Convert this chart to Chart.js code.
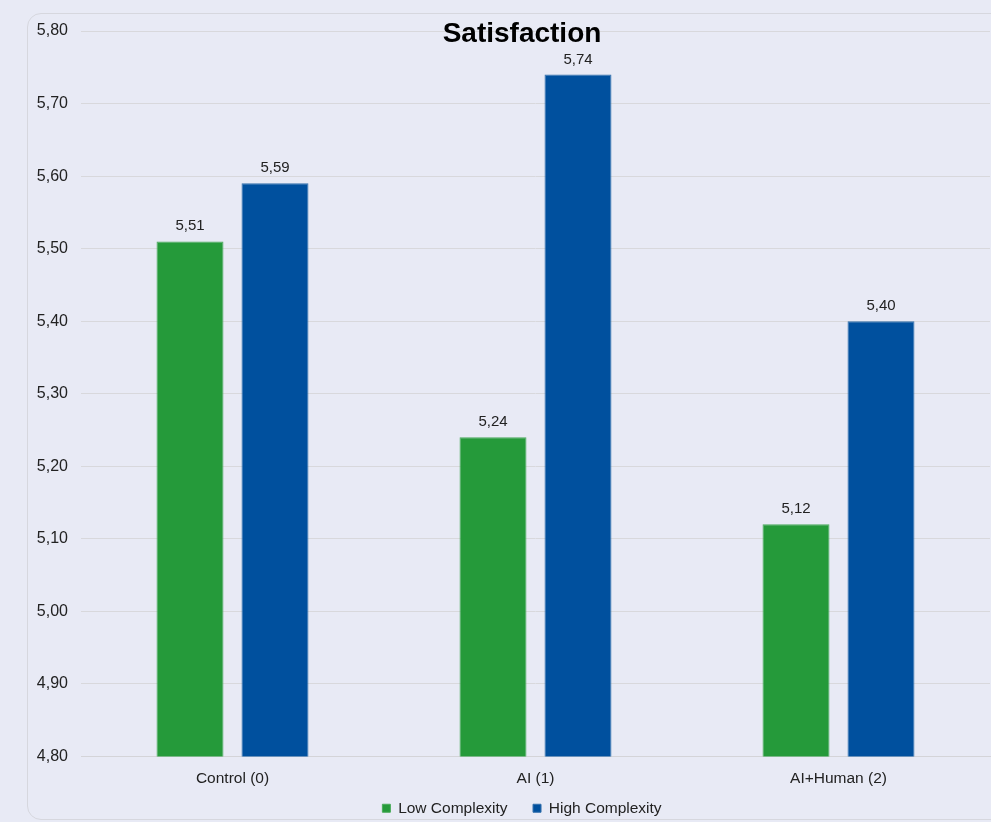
<!DOCTYPE html>
<html>
<head>
<meta charset="utf-8">
<script src="https://cdn.jsdelivr.net/npm/chart.js@4/dist/chart.umd.min.js"></script>
<style>
  html, body { margin: 0; padding: 0; background: #e8eaf5; overflow: hidden; width: 991px; height: 822px; }
  #frame { position: absolute; left: 27px; top: 13px; width: 990px; height: 807px; border: 1px solid #d6d7de; border-radius: 14px; box-sizing: border-box; }
  #wrap { position: absolute; left: 0; top: 0; width: 1044px; height: 822px; }
</style>
</head>
<body>
<div id="frame"></div>
<div id="wrap"><canvas id="c" width="1044" height="822"></canvas></div>
<script>
const chartTitle = "Satisfaction";
const categories = ["Control (0)", "AI (1)", "AI+Human (2)"];
const seriesNames = ["Low Complexity", "High Complexity"];
const lowComplexity = [5.51, 5.24, 5.12];
const highComplexity = [5.59, 5.74, 5.40];
const yMin = 4.80, yMax = 5.80, yStep = 0.10;

const FONT = "'Liberation Sans', Arial, sans-serif";
const fmt = v => v.toFixed(2).replace('.', ',');

const labelsPlugin = {
  id: 'barLabels',
  afterDatasetsDraw(chart) {
    const ctx = chart.ctx;
    ctx.save();
    ctx.font = "15px " + FONT;
    ctx.fillStyle = "#222";
    ctx.textAlign = "center";
    ctx.textBaseline = "alphabetic";
    chart.data.datasets.forEach((ds, i) => {
      chart.getDatasetMeta(i).data.forEach((bar, j) => {
        ctx.fillText(fmt(ds.data[j]), bar.x, bar.y - 11);
      });
    });
    ctx.restore();
  }
};
const titlePlugin = {
  id: 'overTitle',
  afterDraw(chart) {
    const ctx = chart.ctx;
    ctx.save();
    ctx.font = "bold 28px " + FONT;
    ctx.fillStyle = "#000";
    ctx.textAlign = "center";
    ctx.textBaseline = "middle";
    ctx.fillText(chartTitle, chart.width / 2, 34);
    ctx.restore();
  }
};

new Chart(document.getElementById('c'), {
  type: 'bar',
  data: {
    labels: categories,
    datasets: [
      { label: seriesNames[0], data: lowComplexity, backgroundColor: '#259a3a', borderColor: '#4aab5b', borderWidth: 1 },
      { label: seriesNames[1], data: highComplexity, backgroundColor: '#00509e', borderColor: '#3370ad', borderWidth: 1 }
    ]
  },
  options: {
    responsive: false,
    animation: false,
    devicePixelRatio: 1,
    categoryPercentage: 0.561,
    barPercentage: 0.788,
    layout: { padding: { left: 0, right: 0, top: 31, bottom: -4 } },
    plugins: {
      legend: {
        position: 'bottom',
        labels: {
          font: { family: FONT, size: 15.5 }, color: '#222', boxWidth: 8, boxHeight: 8, padding: 10,
          generateLabels(chart) {
            const items = Chart.defaults.plugins.legend.labels.generateLabels(chart);
            items.forEach((it, i) => { if (i < items.length - 1) it.text = it.text + '\u2002\u2002'; });
            return items;
          }
        }
      },
      title: { display: false },
      tooltip: { enabled: false }
    },
    scales: {
      x: {
        afterFit(scale) { scale.height = 34; },
        grid: { display: false, drawTicks: false },
        border: { display: true, color: '#d4d4d8' },
        ticks: { font: { family: FONT, size: 15.5 }, color: '#222', padding: 13 }
      },
      y: {
        min: yMin, max: yMax,
        afterFit(scale) { scale.width = 81; },
        grid: { color: '#d8d8dc', drawTicks: false },
        border: { display: false },
        ticks: { stepSize: yStep, font: { family: FONT, size: 16 }, color: '#222', padding: 13, callback: v => fmt(v) }
      },
      yRight: {
        position: 'right',
        min: yMin, max: yMax,
        afterFit(scale) { scale.width = 54; },
        grid: { display: false, drawTicks: false },
        border: { display: false },
        ticks: { display: false }
      }
    }
  },
  plugins: [labelsPlugin, titlePlugin]
});
</script>
</body>
</html>
